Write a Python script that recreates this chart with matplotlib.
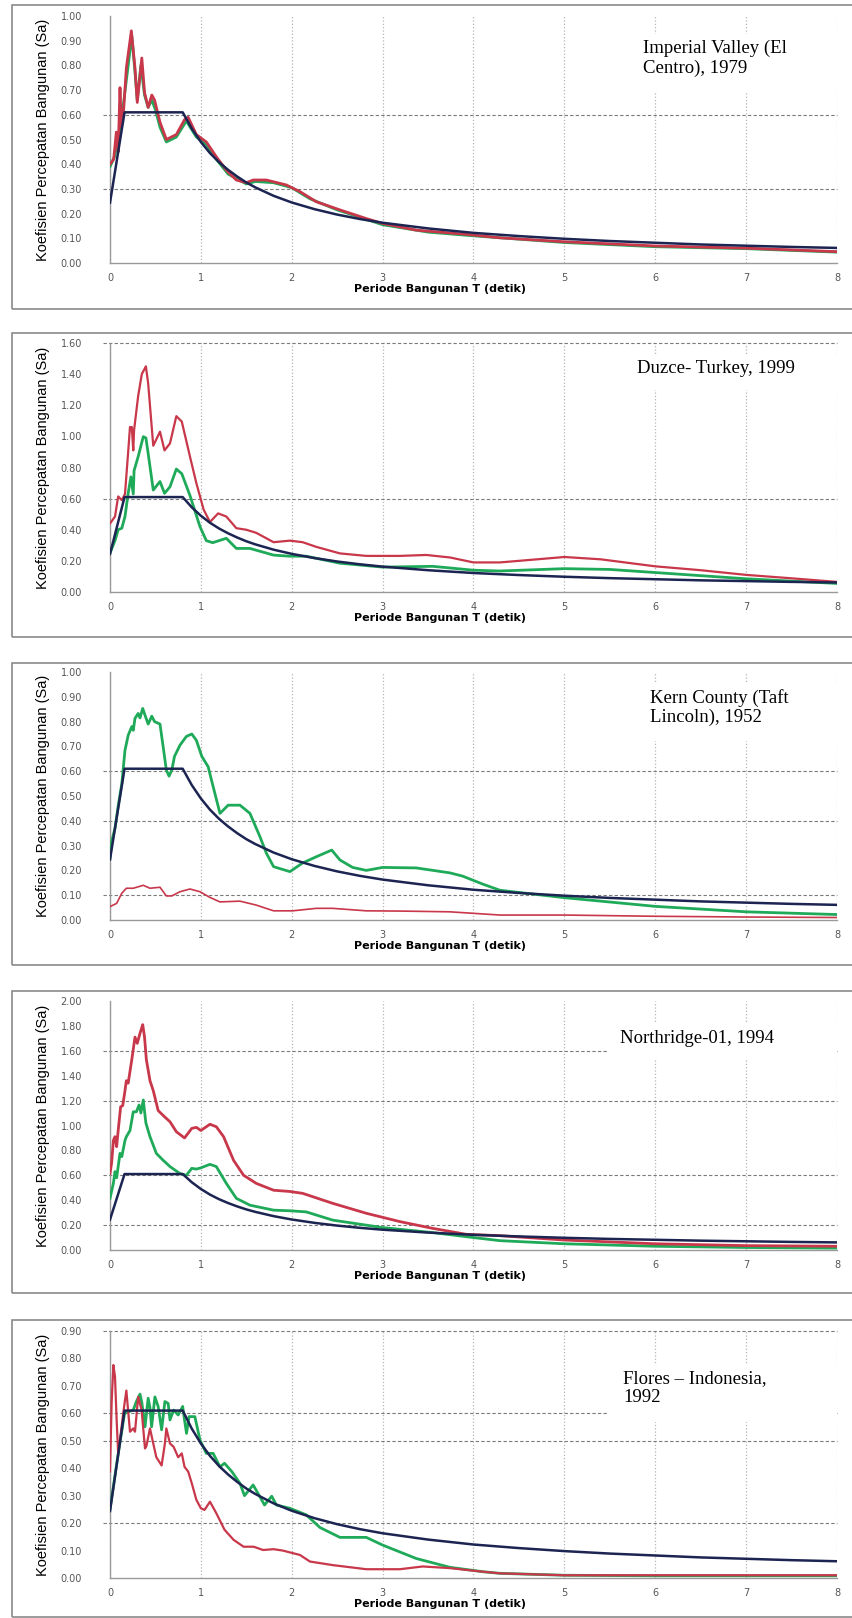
import matplotlib
matplotlib.use("Agg")
import matplotlib.pyplot as plt
from matplotlib.patches import Rectangle

# design spectrum (same in every panel)
t_design = [0, 0.16, 0.8, 0.9, 1.0, 1.1, 1.2, 1.3, 1.4, 1.5, 1.6, 1.8, 2.0, 2.25, 2.5, 2.75,
            3.0, 3.5, 4.0, 4.5, 5.0, 5.5, 6.0, 6.5, 7.0, 7.5, 8.0]
sa_design = [0.244, 0.61, 0.61, 0.544, 0.49, 0.445, 0.408, 0.377, 0.35, 0.326, 0.306, 0.272,
             0.245, 0.218, 0.196, 0.178, 0.163, 0.14, 0.122, 0.109, 0.098, 0.089, 0.082,
             0.075, 0.07, 0.065, 0.061]

# Imperial Valley (El Centro), 1979
t_red1 = [0, 0.04, 0.07, 0.09, 0.11, 0.125, 0.15, 0.18, 0.235, 0.275, 0.30, 0.35, 0.38, 0.42,
          0.46, 0.49, 0.55, 0.62, 0.73, 0.82, 0.86, 0.95, 1.06, 1.17, 1.28, 1.39, 1.50, 1.575,
          1.72, 1.94, 2.09, 2.27, 2.53, 2.82, 3.0, 3.37, 3.92, 4.29, 5, 6, 7, 8]
sa_red1 = [0.40, 0.42, 0.53, 0.45, 0.71, 0.55, 0.62, 0.79, 0.94, 0.79, 0.65, 0.83, 0.69, 0.63,
           0.68, 0.66, 0.57, 0.50, 0.52, 0.58, 0.59, 0.52, 0.49, 0.43, 0.376, 0.336, 0.325,
           0.336, 0.336, 0.316, 0.289, 0.248, 0.215, 0.18, 0.16, 0.133, 0.116, 0.102, 0.086,
           0.069, 0.06, 0.046]
t_grn1 = [0, 0.05, 0.1, 0.15, 0.2, 0.24, 0.28, 0.30, 0.34, 0.38, 0.42, 0.46, 0.5, 0.55, 0.62,
          0.73, 0.84, 0.95, 1.06, 1.17, 1.3, 1.5, 1.6, 1.8, 2.0, 2.2, 2.5, 3.0, 3.5, 4, 5, 6, 7, 8]
sa_grn1 = [0.39, 0.43, 0.52, 0.65, 0.80, 0.92, 0.75, 0.66, 0.80, 0.68, 0.63, 0.66, 0.62, 0.55,
           0.49, 0.51, 0.575, 0.51, 0.48, 0.42, 0.36, 0.32, 0.33, 0.325, 0.305, 0.26, 0.215,
           0.155, 0.125, 0.11, 0.083, 0.066, 0.058, 0.044]

# Duzce- Turkey, 1999
t_red2 = [0, 0.055, 0.09, 0.13, 0.165, 0.20, 0.22, 0.24, 0.256, 0.265, 0.31, 0.35, 0.395, 0.42,
          0.476, 0.55, 0.60, 0.66, 0.73, 0.79, 0.88, 0.95, 1.03, 1.1, 1.19, 1.28, 1.39, 1.5,
          1.61, 1.80, 1.98, 2.12, 2.27, 2.53, 2.82, 3.19, 3.48, 3.74, 4.0, 4.29, 4.7, 5.0, 5.4,
          6.0, 6.5, 7.0, 7.5, 8.0]
sa_red2 = [0.44, 0.485, 0.614, 0.59, 0.63, 0.90, 1.06, 1.06, 0.91, 1.04, 1.26, 1.40, 1.45, 1.34,
           0.94, 1.03, 0.91, 0.955, 1.13, 1.095, 0.87, 0.70, 0.53, 0.45, 0.505, 0.485, 0.41,
           0.40, 0.38, 0.32, 0.33, 0.32, 0.29, 0.248, 0.232, 0.232, 0.238, 0.222, 0.19, 0.19,
           0.21, 0.225, 0.21, 0.165, 0.14, 0.11, 0.088, 0.065]
t_grn2 = [0, 0.055, 0.09, 0.13, 0.165, 0.2, 0.23, 0.256, 0.265, 0.31, 0.366, 0.395, 0.42,
          0.476, 0.55, 0.60, 0.66, 0.73, 0.79, 0.88, 0.99, 1.06, 1.13, 1.28, 1.39, 1.54, 1.80,
          1.98, 2.16, 2.53, 3.0, 3.55, 4.0, 4.29, 5.0, 5.5, 6.0, 7.0, 8.0]
sa_grn2 = [0.25, 0.33, 0.40, 0.41, 0.485, 0.634, 0.74, 0.63, 0.78, 0.87, 0.998, 0.99, 0.89,
           0.655, 0.71, 0.634, 0.676, 0.79, 0.76, 0.62, 0.42, 0.33, 0.317, 0.345, 0.28, 0.28,
           0.237, 0.23, 0.23, 0.185, 0.16, 0.165, 0.14, 0.135, 0.15, 0.145, 0.125, 0.085, 0.055]

# Kern County (Taft Lincoln), 1952
t_red3 = [0, 0.073, 0.13, 0.18, 0.256, 0.366, 0.44, 0.55, 0.62, 0.68, 0.77, 0.88, 0.99, 1.1,
          1.21, 1.43, 1.61, 1.80, 2.01, 2.27, 2.45, 2.82, 3.19, 3.74, 4.29, 5, 6, 7, 8]
sa_red3 = [0.054, 0.067, 0.108, 0.128, 0.128, 0.14, 0.128, 0.132, 0.097, 0.097, 0.114, 0.125,
           0.114, 0.091, 0.073, 0.076, 0.06, 0.037, 0.037, 0.047, 0.047, 0.037, 0.036, 0.033,
           0.02, 0.02, 0.015, 0.012, 0.01]
t_grn3 = [0, 0.02, 0.055, 0.09, 0.13, 0.165, 0.18, 0.2, 0.24, 0.256, 0.275, 0.31, 0.33, 0.36,
          0.385, 0.42, 0.46, 0.49, 0.55, 0.59, 0.62, 0.65, 0.68, 0.71, 0.77, 0.84, 0.90, 0.95,
          1.01, 1.08, 1.135, 1.21, 1.30, 1.43, 1.54, 1.65, 1.72, 1.80, 1.98, 2.12, 2.27, 2.44,
          2.53, 2.67, 2.82, 3.0, 3.37, 3.74, 3.88, 4.1, 4.29, 5, 6, 7, 8]
sa_grn3 = [0.25, 0.32, 0.37, 0.46, 0.55, 0.685, 0.71, 0.745, 0.78, 0.765, 0.813, 0.833, 0.815,
           0.853, 0.826, 0.79, 0.822, 0.80, 0.79, 0.685, 0.605, 0.58, 0.605, 0.66, 0.705, 0.74,
           0.75, 0.725, 0.66, 0.618, 0.538, 0.43, 0.463, 0.463, 0.43, 0.336, 0.27, 0.215,
           0.195, 0.23, 0.255, 0.282, 0.242, 0.212, 0.2, 0.212, 0.21, 0.19, 0.177, 0.145, 0.12,
           0.09, 0.055, 0.033, 0.022]

# Northridge-01, 1994
t_red4 = [0, 0.018, 0.037, 0.055, 0.073, 0.09, 0.117, 0.14, 0.165, 0.18, 0.2, 0.24, 0.275,
          0.30, 0.33, 0.36, 0.38, 0.40, 0.44, 0.476, 0.53, 0.586, 0.66, 0.73, 0.82, 0.90, 0.95,
          1.0, 1.1, 1.17, 1.25, 1.36, 1.47, 1.61, 1.80, 1.98, 2.12, 2.45, 2.82, 3.19, 3.55,
          3.92, 4.29, 5, 6, 7, 8]
sa_red4 = [0.614, 0.70, 0.88, 0.91, 0.83, 0.96, 1.15, 1.16, 1.28, 1.36, 1.34, 1.53, 1.71, 1.66,
           1.74, 1.81, 1.71, 1.53, 1.36, 1.28, 1.12, 1.08, 1.03, 0.95, 0.90, 0.977, 0.985, 0.96,
           1.01, 0.99, 0.91, 0.72, 0.60, 0.535, 0.48, 0.47, 0.455, 0.375, 0.295, 0.228, 0.174,
           0.126, 0.115, 0.08, 0.05, 0.035, 0.03]
t_grn4 = [0, 0.037, 0.055, 0.073, 0.11, 0.13, 0.165, 0.18, 0.22, 0.256, 0.29, 0.32, 0.34,
          0.366, 0.395, 0.44, 0.51, 0.586, 0.66, 0.77, 0.84, 0.90, 0.95, 1.0, 1.1, 1.17, 1.28,
          1.39, 1.54, 1.80, 1.98, 2.16, 2.45, 3.0, 3.55, 3.92, 4.29, 5, 6, 7, 8]
sa_grn4 = [0.415, 0.535, 0.63, 0.58, 0.776, 0.75, 0.88, 0.91, 0.96, 1.11, 1.11, 1.165, 1.10,
           1.205, 1.02, 0.91, 0.776, 0.72, 0.67, 0.614, 0.60, 0.656, 0.65, 0.66, 0.688, 0.67,
           0.535, 0.415, 0.36, 0.32, 0.315, 0.306, 0.24, 0.18, 0.14, 0.107, 0.075, 0.05, 0.03,
           0.02, 0.015]

# Flores - Indonesia, 1992
t_red5 = [0, 0.018, 0.037, 0.055, 0.073, 0.09, 0.11, 0.15, 0.18, 0.22, 0.256, 0.275, 0.31,
          0.348, 0.385, 0.40, 0.44, 0.476, 0.51, 0.568, 0.604, 0.62, 0.66, 0.70, 0.75, 0.79,
          0.82, 0.86, 0.90, 0.95, 1.0, 1.04, 1.1, 1.17, 1.26, 1.36, 1.47, 1.58, 1.685, 1.80,
          1.9, 2.09, 2.2, 2.45, 2.82, 3.19, 3.44, 3.74, 4.1, 4.29, 5, 6, 7, 8]
sa_red5 = [0.388, 0.64, 0.776, 0.734, 0.576, 0.454, 0.503, 0.612, 0.683, 0.533, 0.545, 0.533,
           0.66, 0.612, 0.472, 0.48, 0.545, 0.49, 0.44, 0.41, 0.49, 0.545, 0.49, 0.478, 0.44,
           0.454, 0.405, 0.388, 0.345, 0.285, 0.254, 0.248, 0.278, 0.236, 0.176, 0.139, 0.114,
           0.114, 0.102, 0.105, 0.10, 0.084, 0.06, 0.047, 0.032, 0.032, 0.042, 0.036, 0.023,
           0.017, 0.01, 0.01, 0.01, 0.01]
t_grn5 = [0, 0.08, 0.16, 0.256, 0.29, 0.33, 0.35, 0.385, 0.42, 0.44, 0.458, 0.494, 0.53,
          0.568, 0.604, 0.64, 0.66, 0.70, 0.75, 0.80, 0.82, 0.842, 0.87, 0.934, 0.99, 1.06,
          1.135, 1.21, 1.26, 1.34, 1.43, 1.48, 1.575, 1.65, 1.70, 1.78, 1.83, 1.98, 2.16, 2.31,
          2.53, 2.82, 3.0, 3.37, 3.74, 4.1, 4.29, 5, 6, 7, 8]
sa_grn5 = [0.25, 0.43, 0.60, 0.612, 0.643, 0.67, 0.64, 0.551, 0.655, 0.62, 0.551, 0.66, 0.625,
           0.54, 0.643, 0.636, 0.576, 0.612, 0.594, 0.625, 0.576, 0.527, 0.588, 0.588, 0.503,
           0.454, 0.454, 0.405, 0.418, 0.388, 0.345, 0.30, 0.339, 0.296, 0.266, 0.298, 0.266,
           0.254, 0.23, 0.184, 0.148, 0.148, 0.12, 0.071, 0.039, 0.023, 0.017, 0.01, 0.008,
           0.008, 0.008]

titles = ["Imperial Valley (El\nCentro), 1979", "Duzce- Turkey, 1999",
          "Kern County (Taft\nLincoln), 1952", "Northridge-01, 1994",
          "Flores \u2013 Indonesia,\n1992"]
y_max = [1.0, 1.6, 1.0, 2.0, 0.9]
y_step = [0.1, 0.2, 0.1, 0.2, 0.1]
h_grid = [[0.3, 0.6], [0.6, 1.6], [0.1, 0.4, 0.6], [0.2, 0.6, 1.2, 1.6], [0.2, 0.5, 0.6, 0.9]]
red_t = [t_red1, t_red2, t_red3, t_red4, t_red5]
red_sa = [sa_red1, sa_red2, sa_red3, sa_red4, sa_red5]
grn_t = [t_grn1, t_grn2, t_grn3, t_grn4, t_grn5]
grn_sa = [sa_grn1, sa_grn2, sa_grn3, sa_grn4, sa_grn5]
red_lw = [2.0, 1.6, 1.2, 2.0, 1.6]

RED = '#c8374a'
GREEN = '#1faa5a'
NAVY = '#1c2452'

W, H = 853, 1618
fig = plt.figure(figsize=(W / 100, H / 100), dpi=100)

# pixel layout of each panel: axes top/bottom, frame top/bottom, title position
ax_top = [16, 343, 672, 1001, 1331]
ax_bot = [263, 592, 920, 1250, 1578]
box_top = [5, 333, 663, 991, 1320]
box_bot = [309, 637, 965, 1293, 1617]
title_xy = [(643, 40), (637, 360), (650, 689), (620, 1030), (623, 1370)]
title_lines = [2, 1, 2, 1, 2]

left, right = 110, 837

for i in range(5):
    fig.patches.append(Rectangle((12 / W, 1 - box_bot[i] / H), (W + 5 - 12) / W,
                                 (box_bot[i] - box_top[i]) / H, transform=fig.transFigure,
                                 fill=False, edgecolor='#8a8a8a', lw=1.2))
    ax = fig.add_axes([left / W, 1 - ax_bot[i] / H, (right - left) / W,
                       (ax_bot[i] - ax_top[i]) / H])
    ax.set_xlim(0, 8)
    ax.set_ylim(0, y_max[i])
    ax.set_xticks(range(9))
    n = int(round(y_max[i] / y_step[i]))
    yt = [k * y_step[i] for k in range(n + 1)]
    ax.set_yticks(yt)
    ax.set_yticklabels(['%.2f' % v for v in yt])
    ax.tick_params(length=0, labelsize=7, labelcolor='#555555')
    ax.tick_params(axis='y', pad=20)
    ax.tick_params(axis='x', pad=7)
    for s in ['top', 'right']:
        ax.spines[s].set_visible(False)
    for s in ['left', 'bottom']:
        ax.spines[s].set_color('#9a9a9a')
        ax.spines[s].set_linewidth(1.0)
    ax.grid(axis='x', linestyle=':', color='#b5b5b5', lw=0.9)
    ax.set_axisbelow(True)
    for v in h_grid[i]:
        ax.axhline(v, xmin=-0.01, xmax=1, clip_on=False, color='#7a7a7a', lw=0.8,
                   dashes=(3, 2), zorder=1)

    # white box behind the earthquake name (pixel coords)
    tx, ty = title_xy[i]
    bt = ty - 6
    bb = ty + 22 * title_lines[i] + 8
    fig.patches.append(Rectangle((607 / W, 1 - bb / H), (837 - 607) / W, (bb - bt) / H,
                                 transform=fig.transFigure, facecolor='white',
                                 edgecolor='none', zorder=2))

    ax.plot(grn_t[i], grn_sa[i], color=GREEN, lw=2.0, zorder=3)
    ax.plot(red_t[i], red_sa[i], color=RED, lw=red_lw[i], zorder=4)
    ax.plot(t_design, sa_design, color=NAVY, lw=1.8, zorder=5)

    ax.set_ylabel('Koefisien Percepatan Bangunan (Sa)', fontsize=10.5,
                  family=['Liberation Sans Narrow', 'Liberation Sans'])
    ax.yaxis.set_label_coords(-0.082, 0.5)
    ax.set_xlabel('Periode Bangunan T (detik)', fontsize=8, fontweight='bold')
    ax.xaxis.set_label_coords(0.454, -0.085)

    fig.text(tx / W, 1 - ty / H, titles[i], family='Liberation Serif', fontsize=13.5,
             va='top', ha='left', linespacing=1.15, zorder=3)

fig.savefig('out.png', dpi=100)
